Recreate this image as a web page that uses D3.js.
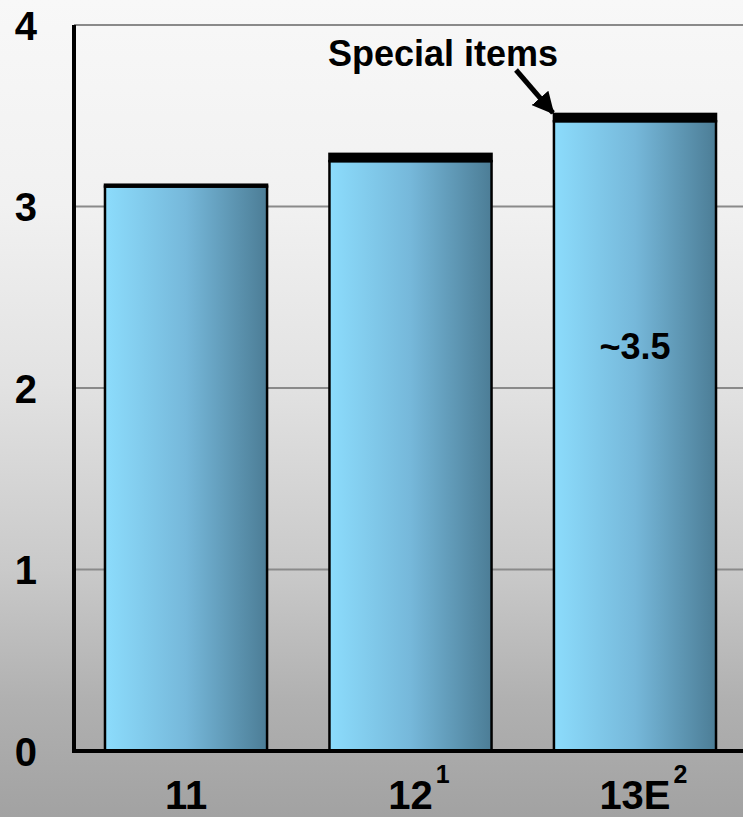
<!DOCTYPE html>
<html>
<head>
<meta charset="utf-8">
<script src="https://cdn.jsdelivr.net/npm/d3@7/dist/d3.min.js"></script>
<style>
  html, body { margin: 0; padding: 0; background: #ffffff; }
  svg { display: block; }
  text { font-family: "Liberation Sans", Arial, sans-serif; font-weight: bold; fill: #000; }
</style>
</head>
<body>
<svg id="chart" width="743" height="817"></svg>
<script>
// Year labels with their footnote markers
const categories = ["11", "12", "13E"];
const footnotes = ["", "1", "2"];
// Base value of each bar and the special-items slice stacked on top
const baseValues = [3.11, 3.25, 3.47];
const specialItems = [0.01, 0.04, 0.04];
// Axis ticks
const yTicks = [0, 1, 2, 3, 4];
// Annotations
const specialLabel = "Special items";
const valueLabel = "~3.5";
const valueLabelIndex = 2;

const W = 743, H = 817;
const svg = d3.select("#chart");
const defs = svg.append("defs");

// Slide background: light at the top, darker grey toward the bottom
const bg = defs.append("linearGradient").attr("id", "bg")
  .attr("x1", 0).attr("y1", 0).attr("x2", 0).attr("y2", 1);
[[0, "#f8f8f8"], [0.25, "#f1f1f1"], [0.47, "#e2e2e2"], [0.7, "#c9c9c9"], [0.86, "#b0b0b0"], [1, "#a2a2a2"]]
  .forEach(([o, c]) => bg.append("stop").attr("offset", o).attr("stop-color", c));
svg.append("rect").attr("width", W).attr("height", H).attr("fill", "url(#bg)");

// Bar fill: light sky blue on the left fading to steel blue on the right
const barGrad = defs.append("linearGradient").attr("id", "barGrad")
  .attr("x1", 0).attr("y1", 0).attr("x2", 1).attr("y2", 0);
[[0, "#8cdcfc"], [0.5, "#76b8da"], [1, "#4c7d96"]]
  .forEach(([o, c]) => barGrad.append("stop").attr("offset", o).attr("stop-color", c));

const y = d3.scaleLinear().domain([0, 4]).range([751, 25]);
const x = d3.scaleBand().domain(categories).range([73, 748])
  .paddingInner(0.278).paddingOuter(0.1425);

const axisX = 74, rightEdge = W;

// Horizontal gridlines
svg.append("g").selectAll("line").data(yTicks.filter(t => t > 0)).join("line")
  .attr("x1", axisX).attr("x2", rightEdge)
  .attr("y1", d => y(d)).attr("y2", d => y(d))
  .attr("stroke", "#8a8a8a").attr("stroke-width", 2);

// Bars
const bars = svg.append("g");
bars.selectAll("rect.base").data(categories).join("rect")
  .attr("class", "base")
  .attr("x", d => x(d))
  .attr("width", x.bandwidth())
  .attr("y", (d, i) => y(baseValues[i]))
  .attr("height", (d, i) => y(0) - y(baseValues[i]))
  .attr("fill", "url(#barGrad)")
  .attr("stroke", "#000").attr("stroke-width", 2.5);

// Special items slice on top of each bar
bars.selectAll("rect.special").data(categories).join("rect")
  .attr("class", "special")
  .attr("x", d => x(d))
  .attr("width", x.bandwidth())
  .attr("y", (d, i) => y(baseValues[i] + specialItems[i]))
  .attr("height", (d, i) => y(baseValues[i]) - y(baseValues[i] + specialItems[i]))
  .attr("fill", "#000")
  .attr("stroke", "#000").attr("stroke-width", 2.5);

// Axis lines
svg.append("line").attr("x1", axisX).attr("x2", axisX)
  .attr("y1", y(4)).attr("y2", y(0) + 1)
  .attr("stroke", "#000").attr("stroke-width", 4);
svg.append("line").attr("x1", axisX - 2).attr("x2", rightEdge)
  .attr("y1", y(0)).attr("y2", y(0))
  .attr("stroke", "#000").attr("stroke-width", 4);

// Y tick labels
const yAxis = d3.axisLeft(y).tickValues(yTicks).tickFormat(d3.format("d")).tickSize(0).tickPadding(0);
const yAxisG = svg.append("g").attr("transform", "translate(37,0)").call(yAxis);
yAxisG.select(".domain").remove();
yAxisG.selectAll("text")
  .attr("x", 0).attr("dy", "0.36em")
  .attr("font-family", "Liberation Sans, Arial, sans-serif")
  .attr("font-weight", "bold")
  .attr("font-size", 40).attr("fill", "#000");

// X category labels with superscript footnotes
const xl = svg.append("g");
categories.forEach((c, i) => {
  const cx = x(c) + x.bandwidth() / 2;
  const t = xl.append("text").attr("x", cx).attr("y", 809)
    .attr("text-anchor", "middle").attr("font-size", 40).text(c);
  if (footnotes[i]) {
    const w = t.node().getComputedTextLength();
    xl.append("text").attr("x", cx + w / 2 + 3).attr("y", 783)
      .attr("font-size", 25).text(footnotes[i]);
  }
});

// Value label inside the last bar
const vi = valueLabelIndex;
svg.append("text")
  .attr("x", x(categories[vi]) + x.bandwidth() / 2)
  .attr("y", 359)
  .attr("text-anchor", "middle").attr("font-size", 36)
  .text(valueLabel);

// "Special items" callout with arrow to the top of the last bar
svg.append("text").attr("x", 443).attr("y", 66)
  .attr("text-anchor", "middle").attr("font-size", 36).text(specialLabel);

const tipX = x(categories[vi]) - 1;
const tipY = y(baseValues[vi] + specialItems[vi]) - 1;
defs.append("marker").attr("id", "arrowHead")
  .attr("viewBox", "0 0 10 10").attr("refX", 9).attr("refY", 5)
  .attr("markerUnits", "userSpaceOnUse")
  .attr("markerWidth", 22).attr("markerHeight", 22)
  .attr("orient", "auto")
  .append("path").attr("d", "M0,0 L10,5 L0,10 Z").attr("fill", "#000");
svg.append("line")
  .attr("x1", 516).attr("y1", 70)
  .attr("x2", tipX).attr("y2", tipY)
  .attr("stroke", "#000").attr("stroke-width", 5)
  .attr("marker-end", "url(#arrowHead)");
</script>
</body>
</html>
